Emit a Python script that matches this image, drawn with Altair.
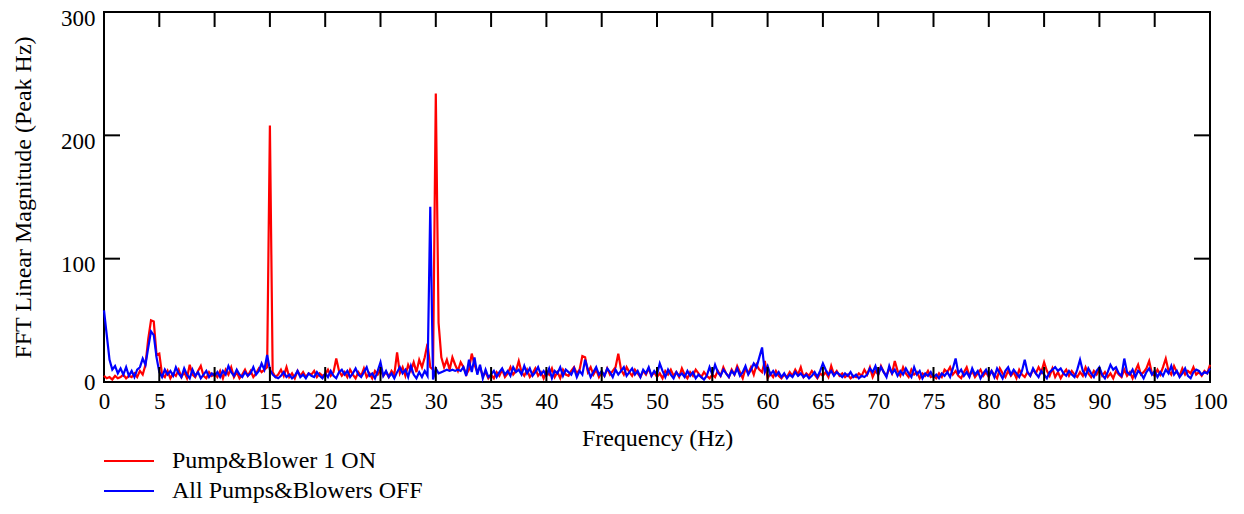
import altair as alt
import pandas as pd

# ---------------- data ----------------
series_names = ["Pump&Blower 1 ON", "All Pumps&Blowers OFF"]
series_colors = ["#ff0000", "#0000ff"]
freq_step = 0.25  # FFT bin width (Hz)

red_mag = [
    5, 3, 4, 2, 5, 3, 4, 6, 3, 5, 4, 7, 4, 9, 6, 14, 35, 50, 49, 22,
    23, 6, 4, 9, 3, 7, 5, 10, 4, 8, 3, 14, 6, 4, 9, 13, 5, 3, 8, 5,
    7, 4, 9, 3, 10, 6, 12, 4, 8, 3, 6, 10, 5, 9, 4, 7, 11, 8, 10, 12,
    208, 8, 4, 6, 10, 5, 12, 4, 7, 3, 9, 5, 8, 4, 7, 6, 9, 4, 7, 5,
    6, 10, 5, 8, 19, 9, 5, 8, 4, 10, 6, 3, 8, 5, 11, 4, 7, 3, 9, 6,
    10, 5, 8, 4, 9, 6, 24, 7, 12, 5, 14, 9, 16, 8, 18, 12, 20, 31, 12, 10,
    234, 48, 20, 12, 18, 10, 20, 14, 9, 16, 12, 6, 10, 23, 14, 8, 12, 5, 8, 3,
    6, 3, 8, 5, 10, 4, 7, 12, 6, 9, 17, 8, 5, 10, 4, 7, 11, 5, 8, 3,
    9, 6, 11, 4, 8, 3, 10, 6, 5, 9, 12, 7, 10, 21, 20, 8, 12, 6, 10, 4,
    8, 5, 11, 6, 9, 12, 23, 10, 6, 12, 8, 5, 10, 7, 4, 9, 6, 11, 5, 8,
    4, 7, 3, 9, 6, 10, 5, 8, 4, 11, 6, 3, 8, 5, 10, 7, 4, 8, 5, 3,
    6, 4, 9, 5, 12, 7, 4, 10, 6, 13, 8, 3, 11, 7, 12, 6, 14, 10, 8, 17,
    3, 7, 4, 9, 5, 3, 6, 4, 8, 5, 10, 6, 12, 4, 7, 5, 9, 6, 3, 7,
    5, 8, 4, 13, 6, 9, 5, 7, 4, 6, 3, 5, 4, 7, 5, 10, 6, 12, 4, 9,
    6, 13, 8, 5, 11, 7, 17, 9, 5, 12, 7, 4, 10, 6, 8, 3, 7, 5, 9, 4,
    5, 3, 7, 4, 10, 8, 12, 6, 9, 5, 3, 8, 12, 5, 9, 4, 7, 10, 5, 8,
    4, 9, 6, 3, 11, 7, 4, 9, 5, 8, 3, 10, 6, 4, 8, 5, 10, 7, 12, 8,
    16, 9, 5, 11, 4, 8, 3, 7, 10, 5, 9, 6, 4, 8, 5, 12, 7, 4, 9, 6,
    10, 5, 8, 4, 7, 3, 9, 6, 4, 10, 5, 8, 3, 9, 14, 6, 8, 11, 17, 7,
    5, 10, 6, 12, 19, 9, 6, 13, 8, 5, 11, 6, 9, 7, 12, 6, 8, 5, 9, 7,
    14,
]

blue_mag = [
    58, 38, 18, 10, 13, 7, 11, 6, 12, 5, 9, 4, 10, 12, 19, 14, 28, 41, 38, 20,
    8, 4, 10, 6, 9, 5, 12, 7, 4, 11, 6, 3, 10, 5, 8, 3, 6, 9, 4, 7,
    5, 8, 4, 9, 6, 13, 8, 5, 10, 6, 4, 8, 5, 7, 12, 6, 9, 15, 10, 22,
    10, 6, 4, 3, 5, 8, 4, 6, 3, 5, 9, 4, 6, 3, 7, 5, 4, 8, 5, 3,
    7, 4, 9, 5, 3, 8, 10, 6, 9, 4, 7, 11, 6, 4, 8, 12, 5, 7, 3, 9,
    16, 5, 9, 4, 7, 3, 8, 12, 7, 10, 4, 13, 6, 3, 8, 4, 9, 5, 142, 2,
    11, 7, 8, 9, 10, 9, 10, 9, 10, 9, 12, 5, 18, 8, 20, 6, 14, 3, 10, 4,
    6, 9, 4, 8, 11, 6, 9, 5, 12, 8, 10, 6, 13, 7, 11, 5, 8, 12, 6, 9,
    5, 11, 3, 9, 7, 12, 5, 10, 8, 6, 11, 4, 9, 6, 18, 10, 4, 8, 12, 6,
    9, 5, 11, 8, 4, 10, 6, 9, 12, 5, 8, 11, 6, 9, 4, 10, 7, 12, 5, 9,
    6, 15, 9, 4, 10, 6, 3, 8, 5, 7, 4, 9, 5, 8, 3, 6, 4, 2, 5, 12,
    6, 14, 8, 5, 10, 7, 4, 9, 6, 11, 5, 8, 13, 6, 10, 15, 12, 20, 28, 8,
    13, 6, 9, 5, 8, 4, 7, 3, 6, 4, 8, 5, 7, 4, 6, 3, 5, 8, 4, 9,
    15, 10, 6, 9, 5, 8, 6, 4, 7, 5, 8, 4, 6, 3, 5, 4, 6, 11, 8, 13,
    6, 12, 8, 4, 13, 7, 10, 5, 9, 6, 11, 7, 4, 12, 6, 9, 3, 7, 5, 8,
    4, 6, 3, 7, 5, 8, 4, 11, 19, 7, 10, 5, 8, 4, 11, 6, 9, 3, 7, 10,
    5, 9, 4, 11, 7, 3, 9, 12, 6, 10, 7, 4, 9, 18, 8, 5, 11, 7, 4, 9,
    6, 3, 8, 10, 12, 9, 11, 7, 5, 9, 6, 4, 10, 18, 9, 5, 11, 7, 4, 9,
    12, 6, 3, 8, 14, 10, 12, 7, 5, 19, 8, 6, 10, 4, 9, 7, 3, 8, 11, 6,
    9, 4, 8, 5, 10, 7, 13, 6, 9, 4, 7, 11, 5, 3, 8, 10, 9, 6, 8, 7,
    11,
]

x_tick_values = [0, 5, 10, 15, 20, 25, 30, 35, 40, 45, 50,
                 55, 60, 65, 70, 75, 80, 85, 90, 95, 100]
y_tick_values = [0, 100, 200, 300]
inner_x_ticks = [5, 10, 15, 20, 25, 30, 35, 40, 45, 50,
                 55, 60, 65, 70, 75, 80, 85, 90, 95]
inner_y_ticks = [100, 200]

x_title = "Frequency (Hz)"
y_title = "FFT Linear Magnitude (Peak Hz)"

# ---------------- layout ----------------
W, H = 1106, 370
TICK = 15
FONT = "Liberation Serif"

red_df = pd.DataFrame({
    "freq": [round(i * freq_step, 2) for i in range(len(red_mag))],
    "mag": red_mag,
    "series": series_names[0],
})
blue_df = pd.DataFrame({
    "freq": [round(i * freq_step, 2) for i in range(len(blue_mag))],
    "mag": blue_mag,
    "series": series_names[1],
})

x_scale = alt.Scale(domain=[0, 100], nice=False, zero=False)
y_scale = alt.Scale(domain=[0, 300], nice=False)
color_scale = alt.Scale(domain=series_names, range=series_colors)

# a short horizontal-line symbol, 2.5x wider than its nominal size
legend = alt.Legend(
    title=None, orient="none", legendX=13, legendY=437,
    direction="vertical", symbolType="M-2.5,0H2.5", symbolSize=400,
    symbolStrokeWidth=2, symbolFillColor="transparent",
    labelFont=FONT, labelFontSize=24,
    labelColor="black", labelOffset=31, rowPadding=6, padding=0,
    labelLimit=500,
)

x_axis = alt.Axis(values=x_tick_values, title=x_title, format="d",
                  labelPadding=8, titlePadding=13, labelFlush=False)
y_axis = alt.Axis(
    values=y_tick_values, title=y_title, format="d",
    labelPadding=9, titlePadding=25, labelFlush=False,
    labelOffset={"condition": {"test": "datum.value == 0", "value": 0},
                 "value": 6},
)


def line_layer(df):
    return alt.Chart(df).mark_line(strokeWidth=2.2, interpolate="linear").encode(
        x=alt.X("freq:Q", scale=x_scale, axis=x_axis),
        y=alt.Y("mag:Q", scale=y_scale, axis=y_axis),
        color=alt.Color("series:N", scale=color_scale, legend=legend),
    )


red_line = line_layer(red_df)
blue_line = line_layer(blue_df)

xt = pd.DataFrame({"t": inner_x_ticks})
yt = pd.DataFrame({"t": inner_y_ticks})

tick_bottom = alt.Chart(xt).mark_rule(color="black", strokeWidth=2).encode(
    x=alt.X("t:Q", scale=x_scale, axis=x_axis),
    y=alt.value(H), y2=alt.value(H - TICK),
)
tick_top = alt.Chart(xt).mark_rule(color="black", strokeWidth=2).encode(
    x=alt.X("t:Q", scale=x_scale, axis=x_axis),
    y=alt.value(0), y2=alt.value(TICK),
)
tick_left = alt.Chart(yt).mark_rule(color="black", strokeWidth=2).encode(
    y=alt.Y("t:Q", scale=y_scale, axis=y_axis),
    x=alt.value(0), x2=alt.value(TICK + 1),
)
tick_right = alt.Chart(yt).mark_rule(color="black", strokeWidth=2).encode(
    y=alt.Y("t:Q", scale=y_scale, axis=y_axis),
    x=alt.value(W), x2=alt.value(W - TICK - 1),
)

chart = alt.layer(
    red_line, blue_line, tick_bottom, tick_top, tick_left, tick_right
).properties(
    width=W, height=H,
    autosize=alt.AutoSizeParams(type="none"),
    padding={"left": 96, "top": 4, "right": 26, "bottom": 124},
    background="white",
).configure_view(
    stroke="black", strokeWidth=2,
).configure_axis(
    domain=False, ticks=False, grid=False,
    labelFont=FONT, labelFontSize=23, labelColor="black",
    titleFont=FONT, titleFontSize=24, titleColor="black",
    titleFontWeight="normal",
)

chart.save("out.html", embed_options={"renderer": "svg", "actions": False})
